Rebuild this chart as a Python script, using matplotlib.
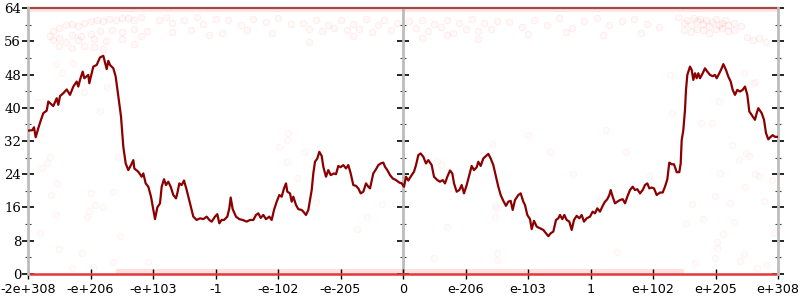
import matplotlib
matplotlib.use("Agg")
import matplotlib.pyplot as plt
import numpy as np

# x positions are in "label slots": -6 .. 6 maps onto the 13 tick labels
tick_pos = [-6, -5, -4, -3, -2, -1, 0, 1, 2, 3, 4, 5, 6]
tick_labels = ['-2e+308', '-e+206', '-e+103', '-1', '-e-102', '-e-205', '0',
               'e-206', 'e-103', '1', 'e+102', 'e+205', 'e+308']

# main trace
line_x = [-6.0, -5.931, -5.904, -5.877, -5.835, -5.792, -5.755, -5.701, -5.675, -5.595,
          -5.541, -5.515, -5.488, -5.435, -5.381, -5.328, -5.275, -5.221, -5.195, -5.168,
          -5.125, -5.099, -5.035, -5.019, -4.981, -4.955, -4.901, -4.848, -4.795, -4.741,
          -4.715, -4.688, -4.635, -4.597, -4.555, -4.512, -4.475, -4.437, -4.395, -4.352,
          -4.315, -4.299, -4.235, -4.181, -4.155, -4.117, -4.075, -4.032, -3.995, -3.968,
          -3.931, -3.888, -3.861, -3.824, -3.792, -3.755, -3.717, -3.675, -3.632, -3.611,
          -3.579, -3.541, -3.504, -3.461, -3.408, -3.355, -3.301, -3.248, -3.195, -3.141,
          -3.099, -3.061, -3.008, -2.971, -2.939, -2.901, -2.864, -2.811, -2.779, -2.757,
          -2.725, -2.672, -2.619, -2.565, -2.501, -2.448, -2.395, -2.352, -2.315, -2.277,
          -2.235, -2.192, -2.139, -2.101, -2.064, -2.021, -1.979, -1.941, -1.904, -1.872,
          -1.851, -1.808, -1.781, -1.755, -1.712, -1.675, -1.621, -1.595, -1.552, -1.515,
          -1.488, -1.461, -1.435, -1.408, -1.371, -1.339, -1.301, -1.275, -1.232, -1.195,
          -1.157, -1.104, -1.072, -1.035, -0.997, -0.955, -0.912, -0.875, -0.837, -0.795,
          -0.752, -0.715, -0.677, -0.635, -0.592, -0.555, -0.528, -0.475, -0.432, -0.395,
          -0.357, -0.315, -0.288, -0.251, -0.208, -0.165, -0.112, -0.059, -0.021, 0.016,
          0.048, 0.085, 0.139, 0.176, 0.208, 0.245, 0.283, 0.325, 0.368, 0.405,
          0.459, 0.496, 0.549, 0.592, 0.635, 0.672, 0.709, 0.752, 0.789, 0.816,
          0.859, 0.901, 0.939, 0.976, 1.019, 1.061, 1.099, 1.136, 1.179, 1.205,
          1.243, 1.285, 1.328, 1.365, 1.403, 1.445, 1.488, 1.525, 1.563, 1.605,
          1.648, 1.685, 1.723, 1.755, 1.792, 1.845, 1.883, 1.925, 1.952, 1.989,
          2.032, 2.059, 2.096, 2.139, 2.192, 2.245, 2.288, 2.325, 2.363, 2.405,
          2.448, 2.485, 2.512, 2.549, 2.581, 2.619, 2.661, 2.699, 2.736, 2.779,
          2.821, 2.859, 2.896, 2.939, 2.992, 3.035, 3.072, 3.109, 3.152, 3.195,
          3.232, 3.269, 3.301, 3.323, 3.355, 3.392, 3.429, 3.472, 3.515, 3.552,
          3.589, 3.632, 3.675, 3.712, 3.749, 3.792, 3.835, 3.872, 3.909, 3.941,
          3.979, 4.016, 4.059, 4.112, 4.155, 4.192, 4.229, 4.261, 4.299, 4.336,
          4.379, 4.421, 4.443, 4.459, 4.485, 4.512, 4.528, 4.549, 4.592, 4.619,
          4.645, 4.672, 4.699, 4.725, 4.752, 4.795, 4.832, 4.869, 4.912, 4.955,
          4.992, 5.019, 5.061, 5.099, 5.125, 5.168, 5.205, 5.243, 5.275, 5.312,
          5.349, 5.392, 5.435, 5.472, 5.509, 5.541, 5.595, 5.632, 5.659, 5.685,
          5.739, 5.776, 5.808, 5.845, 5.883, 5.915, 5.952, 6.0]
line_y = [34.5, 34.6, 35.3, 32.9, 35.1, 37.1, 38.7, 39.3, 41.5, 40.4,
          42.3, 40.7, 42.8, 43.5, 44.4, 43.1, 45.1, 46.3, 45.1, 46.7,
          48.7, 47.1, 47.9, 45.9, 48.3, 49.9, 50.3, 52.1, 52.5, 49.3,
          51.3, 50.3, 49.5, 47.5, 42.7, 37.9, 30.6, 26.6, 25.0, 26.2,
          27.4, 25.4, 24.6, 23.4, 24.2, 21.8, 21.0, 18.6, 15.4, 13.2,
          16.0, 17.0, 21.0, 22.8, 21.4, 22.2, 21.0, 19.0, 18.2, 19.4,
          21.8, 21.4, 22.5, 20.2, 17.0, 13.8, 13.0, 13.4, 13.2, 13.8,
          13.0, 12.6, 13.8, 14.4, 12.2, 13.0, 13.0, 13.8, 15.8, 18.4,
          15.6, 13.8, 13.2, 13.0, 12.6, 13.0, 13.0, 14.2, 14.6, 13.5,
          14.2, 13.2, 13.8, 13.0, 15.4, 17.4, 19.0, 18.6, 20.6, 21.8,
          19.8, 19.4, 17.4, 18.6, 16.6, 15.6, 15.4, 15.0, 14.2, 15.4,
          17.8, 20.2, 24.2, 27.0, 27.8, 29.4, 28.4, 25.8, 23.4, 25.0,
          23.8, 24.2, 24.0, 26.0, 25.7, 26.2, 25.4, 26.2, 24.2, 21.4,
          21.2, 20.6, 19.4, 19.8, 21.8, 21.0, 20.6, 24.2, 25.2, 26.2,
          26.6, 26.8, 25.8, 25.0, 23.8, 23.0, 22.6, 22.0, 21.8, 21.0,
          23.4, 22.5, 23.8, 24.6, 26.2, 28.6, 29.0, 28.2, 26.6, 27.4,
          26.2, 23.4, 22.6, 22.2, 22.6, 21.8, 23.4, 24.9, 24.2, 21.8,
          19.8, 20.2, 21.4, 19.4, 21.4, 23.8, 26.0, 25.0, 25.7, 27.0,
          26.0, 27.8, 28.4, 28.9, 27.8, 26.2, 23.4, 21.0, 19.0, 17.6,
          16.4, 17.4, 17.6, 15.4, 17.8, 19.0, 19.4, 17.4, 16.6, 14.2,
          13.2, 10.8, 12.8, 11.4, 11.0, 10.6, 9.8, 9.1, 9.8, 10.2,
          13.0, 13.4, 14.2, 13.2, 14.2, 13.0, 12.6, 10.6, 13.0, 14.0,
          13.4, 14.2, 12.6, 13.4, 13.8, 15.0, 14.6, 15.8, 15.0, 16.4,
          17.4, 18.0, 19.0, 20.2, 18.6, 17.0, 17.4, 17.8, 18.0, 17.0,
          18.6, 20.2, 21.0, 20.2, 20.4, 19.4, 20.2, 21.4, 21.8, 20.6,
          20.8, 20.6, 19.0, 19.6, 19.6, 21.0, 22.8, 26.8, 26.4, 26.4,
          24.5, 24.5, 26.6, 32.2, 34.6, 39.5, 44.3, 47.9, 49.9, 49.1,
          46.7, 48.3, 47.1, 48.3, 47.1, 48.3, 49.5, 48.7, 47.9, 47.6,
          47.9, 47.1, 48.3, 49.5, 50.5, 49.1, 47.5, 46.3, 44.3, 43.1,
          44.3, 43.9, 44.3, 45.1, 43.1, 39.1, 37.9, 37.1, 38.7, 39.9,
          38.7, 37.1, 33.9, 32.4, 33.0, 33.4, 33.0, 33.0]

# faint sample dots, upper cloud
top_x = [-5.6, -5.5, -5.4, -5.3, -5.2, -5.1, -5.0, -4.9, -4.8, -4.7, -4.6, -4.5, -4.4, -4.3, -4.2,
         -5.65, -5.5, -5.3, -5.15, -5.0, -4.85, -4.65, -4.5, -4.3, -4.1,
         -5.6, -5.4, -5.2, -4.95, -4.75, -4.5, -4.2, -5.5, -5.3, -5.1, -4.95, -4.8, -4.3,
         -3.9, -3.8, -3.7, -3.5, -3.3, -3.2, -3.0, -2.8, -2.6, -2.4, -2.2, -2.0, -1.8,
         -3.7, -3.4, -3.1, -2.9, -2.5, -2.1,
         -1.6, -1.5, -1.4, -1.3, -1.2, -1.1, -1.0, -0.9, -0.8, -0.7, -0.6, -0.5, -0.4, -0.3,
         -0.2, -0.1, 0.1, 0.2, 0.3, 0.4, 0.5, 0.6, 0.7, 0.8, 0.9, 1.0, 1.1, 1.2, 1.3, 1.4, 1.5,
         -1.5, -0.8, 0.3, 0.7, 1.2,
         1.7, 1.9, 2.1, 2.3, 2.5, 2.7, 2.9, 3.1, 3.3, 3.5, 3.7, 3.9, 4.1, 2.0, 2.6, 3.2, 3.8,
         4.4, 4.5, 4.55, 4.6, 4.65, 4.7, 4.75, 4.8, 4.85, 4.9, 4.95, 5.0, 5.05, 5.1, 5.15,
         5.2, 5.3, 5.4, 4.5, 4.6, 4.7, 4.8, 4.9, 5.0, 5.1, 5.2, 5.3, 5.5, 5.6, 5.7, 5.8]
top_y = [58.5, 59.2, 59.8, 60.2, 59.6, 60.5, 60.9, 61.2, 60.8, 61.3, 61.0, 61.5, 61.7, 61.2, 61.9,
         57.3, 56.9, 57.6, 57.2, 57.8, 58.4, 58.6, 58.2, 58.9, 58.5,
         56.2, 55.8, 56.4, 56.6, 56.0, 56.6, 57.2, 54.8, 54.4, 54.9, 54.5, 54.1, 55.3,
         61.2, 61.8, 60.3, 61.2, 61.8, 60.2, 61.3, 61.0, 60.0, 61.4, 60.6, 61.7, 60.1,
         58.3, 58.7, 57.5, 58.0, 58.6, 57.9,
         60.5, 59.0, 61.0, 58.5, 60.0, 59.3, 61.0, 58.8, 60.2, 59.0, 61.3, 58.2, 60.0, 61.0,
         58.7, 60.5, 60.8, 59.2, 61.0, 58.5, 60.2, 59.5, 61.2, 58.0, 60.5, 59.0, 61.3, 58.4,
         60.3, 59.0, 60.8,
         55.8, 57.2, 56.8, 57.5, 56.5,
         60.6, 59.4, 61.1, 60.0, 61.5, 59.2, 60.8, 61.6, 59.8, 60.9, 61.4, 60.2, 59.5, 57.8,
         58.2, 57.4, 58.0,
         61.8, 60.4, 61.2, 59.9, 61.6, 60.8, 61.4, 60.2, 61.0, 59.6, 60.6, 61.3, 59.9, 60.4, 61.0,
         59.8, 60.5, 59.6, 58.8, 58.2, 59.0, 58.6, 58.1, 58.9, 59.3, 58.4, 58.8, 57.0, 56.2,
         56.8, 55.9]

# faint sample dots, scattered through the middle and near the floor
mid_x = [-5.84, -5.65, -5.77, -5.7, -5.54, -5.63, -5.56, -5.81, -5.46, -5.28, -5.56, -4.85,
         -5.0, -4.93, -4.8, -5.03, -5.05, -4.64, -4.56, -4.73, -4.53, -5.1,
         -1.84, -1.85, -1.98, -1.58, -1.85, -1.7, -1.39, -0.58, -0.33, -0.73,
         2.0, 1.43, 0.55, 0.6, 1.47, 1.48, 1.47, 0.7,
         3.25, 2.35, 3.57, 2.72, 3.93, 3.15,
         4.27, 4.31, 4.76, 4.95, 5.05, 5.45, 5.63, 5.6, 5.26, 5.37, 5.49, 5.53, 5.07, 5.63,
         5.69, 5.9, 5.47, 5.77, 4.99, 5.23, 4.62, 4.8, 4.53, 5.3, 5.12, 5.94, 5.03,
         -5.51, -5.14, -4.64, -4.96, -5.3, -4.08, 0.49, 1.5, 1.5,
         3.43, 5.02, 4.99, 4.67, 5.45, 5.39, 5.66, 5.82]
mid_y = [41.5, 28.2, 25.6, 26.8, 21.8, 19.0, 14.2, 9.9, 48.3, 50.8, 50.5, 39.3,
         19.4, 16.6, 16.0, 15.2, 13.6, 19.8, 28.2, 45.1, 9.1, 43.9,
         33.9, 32.2, 30.6, 29.4, 27.0, 23.0, 17.4, 13.6, 16.8, 10.8,
         33.4, 31.3, 27.3, 26.3, 16.6, 15.8, 13.6, 11.4,
         34.6, 29.4, 29.4, 24.1, 23.6, 17.8,
         47.9, 38.7, 36.4, 36.4, 41.7, 48.3, 46.1, 45.9, 31.0, 27.4, 29.0, 28.4, 24.4, 24.1,
         23.6, 22.5, 20.9, 17.6, 18.8, 17.2, 16.8, 13.2, 12.2, 12.6, 9.6, 9.8, 7.6,
         5.9, 5.1, 3.0, 1.8, 1.4, 3.0, 3.8, 5.1, 3.3,
         5.4, 6.2, 3.8, 2.7, 4.8, 3.2, 1.4, 2.2]

# dense band of dots sitting on the floor
floor_band_x = [-4.6, 4.5]
floor_band_top = [1.3, 1.3]

fig = plt.figure(figsize=(8, 3), dpi=100)
ax = fig.add_axes([0.035, 0.0867, 0.9375, 0.8866])
ax.set_xlim(-6, 6)
ax.set_ylim(0, 64)

ax.scatter(top_x, top_y, s=22, facecolor=(1, 0, 0, 0.025), edgecolor=(1, 0, 0, 0.06),
           linewidth=0.8, zorder=1)
ax.scatter(mid_x, mid_y, s=22, facecolor=(1, 0, 0, 0.015), edgecolor=(1, 0, 0, 0.035),
           linewidth=0.8, zorder=1)
ax.fill_between(floor_band_x, 0, floor_band_top, color='red', alpha=0.12, lw=0, zorder=1)
ax.fill_between([-6, 6], 63.1, 64, color='red', alpha=0.1, lw=0, zorder=1)

ax.axhline(64, color='#a04a4a', lw=1.6, zorder=2, clip_on=False)
ax.axhline(0, color='#e03a3a', lw=1.8, zorder=2, clip_on=False)
ax.axvline(0, color='#bdbdbd', lw=2, zorder=1.5)

ax.plot(line_x, line_y, color='#8b0000', lw=1.6, zorder=3)

for side in ['top', 'bottom']:
    ax.spines[side].set_visible(False)
for side in ['left', 'right']:
    ax.spines[side].set_color('#bdbdbd')
    ax.spines[side].set_linewidth(2)

ax.set_xticks(tick_pos)
ax.set_xticklabels(tick_labels, fontfamily='DejaVu Sans', fontsize=9.2)
ax.set_yticks(range(0, 65, 8))
ax.set_yticks(range(4, 64, 8), minor=True)
ax.set_yticklabels([str(v) for v in range(0, 65, 8)], fontfamily='DejaVu Serif', fontsize=9.5)
ax.tick_params(axis='x', direction='inout', length=7, width=1, pad=3, color='black')
ax.tick_params(axis='y', which='major', direction='inout', length=8, width=1.2, pad=1,
               right=True, color='black')
ax.tick_params(axis='y', which='minor', direction='inout', length=5, width=0.8,
               right=True, color='#444444')

# middle axis at x = 0
mid_axis = ax.secondary_yaxis(0.5)
mid_axis.spines['left'].set_visible(False)
mid_axis.set_yticks(range(0, 65, 8))
mid_axis.set_yticks(range(4, 64, 8), minor=True)
mid_axis.set_yticklabels([])
mid_axis.tick_params(which='major', direction='inout', length=8, width=1.2, color='black')
mid_axis.tick_params(which='minor', direction='inout', length=5, width=0.8, color='#444444')

fig.savefig('out.png', dpi=100)
